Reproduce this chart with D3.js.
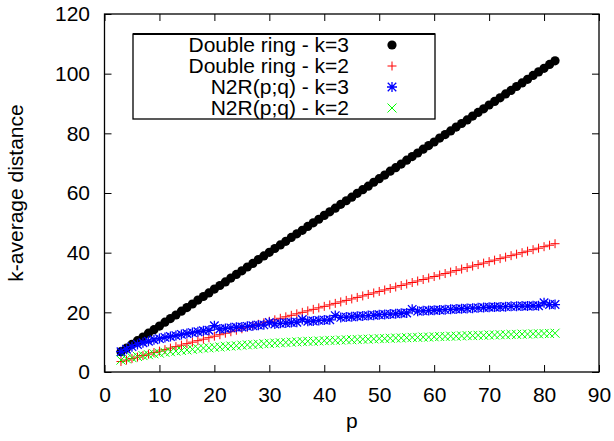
<!DOCTYPE html>
<html>
<head>
<meta charset="utf-8">
<script src="https://cdn.jsdelivr.net/npm/d3@7"></script>
<style>
  html, body { margin: 0; padding: 0; background: #fff; }
  svg { display: block; font-family: "Liberation Sans", Arial, sans-serif; }
</style>
</head>
<body>
<script>
// ---- data ----
const pValues = d3.range(3, 83); // p = 3 .. 82
const doubleRingK3 = [6.8,8.0,9.3,10.5,11.7,13.0,14.2,15.4,16.7,17.9,19.1,20.4,21.6,22.8,24.1,25.3,26.5,27.8,29.0,30.2,
  31.5,32.7,33.9,35.2,36.4,37.7,38.9,40.1,41.4,42.6,43.8,45.1,46.3,47.5,48.8,50.0,51.2,52.5,53.7,54.9,
  56.2,57.4,58.6,59.9,61.1,62.3,63.6,64.8,66.0,67.3,68.5,69.7,71.0,72.2,73.4,74.7,75.9,77.1,78.4,79.6,
  80.8,82.1,83.3,84.5,85.8,87.0,88.2,89.5,90.7,91.9,93.2,94.4,95.7,96.9,98.1,99.4,100.6,101.8,103.1,104.3];
const doubleRingK2 = [3.5,4.0,4.5,5.0,5.5,6.0,6.5,7.0,7.5,8.0,8.5,9.0,9.5,10.0,10.5,11.0,11.5,12.0,12.5,13.0,
  13.5,14.0,14.5,15.0,15.5,16.0,16.5,17.0,17.5,18.0,18.5,19.0,19.5,20.0,20.5,21.0,21.5,22.0,22.5,23.0,
  23.5,24.0,24.5,25.0,25.5,26.0,26.5,27.0,27.5,28.0,28.5,29.0,29.5,30.0,30.5,31.0,31.5,32.0,32.5,33.0,
  33.5,34.0,34.5,35.0,35.5,36.0,36.5,37.0,37.5,38.0,38.5,39.0,39.5,40.0,40.5,41.0,41.5,42.0,42.5,43.0];
const n2rK3 = [6.8,7.6,8.5,9.2,9.8,10.3,10.8,11.2,11.6,11.9,12.2,12.6,12.9,13.2,13.5,13.8,14.0,15.5,14.4,14.6,
  14.8,15.0,15.1,15.3,15.5,15.7,15.8,16.6,16.1,16.3,16.4,16.6,16.7,17.6,17.0,17.1,17.3,17.4,17.5,18.9,
  18.3,18.4,18.5,18.7,18.8,18.9,19.0,19.2,19.3,19.4,19.5,19.7,19.8,21.0,20.4,20.5,20.6,20.7,20.8,20.9,
  21.0,21.1,21.2,21.3,21.4,21.5,21.6,21.7,21.8,21.8,21.9,22.0,22.0,22.1,22.1,22.2,22.2,23.2,22.6,22.6];
const n2rK2 = [4.0,4.4,4.8,5.2,5.5,5.8,6.1,6.3,6.6,6.8,7.0,7.2,7.4,7.6,7.8,8.0,8.1,8.3,8.4,8.6,
  8.7,8.8,9.0,9.1,9.2,9.3,9.5,9.6,9.7,9.8,9.9,10.0,10.1,10.2,10.3,10.3,10.4,10.5,10.6,10.6,
  10.7,10.8,10.8,10.9,11.0,11.0,11.1,11.2,11.2,11.3,11.4,11.4,11.5,11.6,11.6,11.7,11.7,11.8,11.9,11.9,
  12.0,12.0,12.1,12.2,12.2,12.3,12.3,12.4,12.4,12.5,12.5,12.6,12.6,12.7,12.7,12.8,12.8,12.9,12.9,13.0];
const seriesNames = ["Double ring - k=3", "Double ring - k=2", "N2R(p;q) - k=3", "N2R(p;q) - k=2"];
const seriesColors = ["#000000", "#ff0000", "#0000ff", "#00ff00"];
const seriesMarkers = ["circle", "plus", "star", "cross"];
const xTicks = [0,10,20,30,40,50,60,70,80,90];
const yTicks = [0,20,40,60,80,100,120];

// ---- layout ----
const W = 614, H = 441;
const m = {left: 104.5, right: 599, top: 14, bottom: 372};
const svg = d3.select("body").append("svg").attr("width", W).attr("height", H);

const x = d3.scaleLinear().domain([0, 90]).range([m.left, m.right]);
const y = d3.scaleLinear().domain([0, 120]).range([m.bottom, m.top]);

const fontSize = 21;
const tick = 7;

// axes (inward ticks, mirrored)
const gx = svg.append("g").attr("transform", `translate(0,${m.bottom})`)
  .call(d3.axisBottom(x).tickValues(xTicks).tickSize(-tick).tickPadding(tick + 8).tickFormat(d3.format("d")));
const gxt = svg.append("g").attr("transform", `translate(0,${m.top})`)
  .call(d3.axisTop(x).tickValues(xTicks).tickSize(-tick).tickFormat(""));
const gy = svg.append("g").attr("transform", `translate(${m.left},0)`)
  .call(d3.axisLeft(y).tickValues(yTicks).tickSize(-tick).tickPadding(tick + 7.5).tickFormat(d3.format("d")));
const gyr = svg.append("g").attr("transform", `translate(${m.right},0)`)
  .call(d3.axisRight(y).tickValues(yTicks).tickSize(-tick).tickFormat(""));
[gx, gxt, gy, gyr].forEach(g => {
  g.select(".domain").remove();
  g.selectAll("line").attr("stroke", "#000").attr("stroke-width", 1);
  g.selectAll("text").attr("font-size", fontSize).attr("fill", "#000")
    .attr("font-family", "Liberation Sans, Arial, sans-serif");
});
gx.selectAll("text").attr("dy", "0.71em");

// border
svg.append("rect").attr("x", m.left).attr("y", m.top)
  .attr("width", m.right - m.left).attr("height", m.bottom - m.top)
  .attr("fill", "none").attr("stroke", "#000").attr("stroke-width", 1.3);

// axis titles
svg.append("text").attr("x", (m.left + m.right) / 2).attr("y", 428)
  .attr("text-anchor", "middle").attr("font-size", fontSize).text("p");
svg.append("text").attr("transform", `translate(23,${(m.top + m.bottom) / 2}) rotate(-90)`)
  .attr("text-anchor", "middle").attr("font-size", fontSize).text("k-average distance");

// marker drawing
function drawMarker(g, type, color, cx, cy) {
  const s = 4.5;
  if (type === "circle") {
    g.append("circle").attr("cx", cx).attr("cy", cy).attr("r", 4.6).attr("fill", color);
  } else {
    const ss = type === "star" ? 5 : s;
    let d = "";
    if (type === "plus" || type === "star") d += `M${cx - ss},${cy}H${cx + ss}M${cx},${cy - ss}V${cy + ss}`;
    if (type === "cross" || type === "star") {
      const t = type === "star" ? ss * 0.85 : s;
      d += `M${cx - t},${cy - t}L${cx + t},${cy + t}M${cx - t},${cy + t}L${cx + t},${cy - t}`;
    }
    g.append("path").attr("d", d).attr("stroke", color)
      .attr("stroke-width", type === "star" ? 1.3 : 1).attr("fill", "none");
  }
}

const allSeries = [doubleRingK3, doubleRingK2, n2rK3, n2rK2];
const plot = svg.append("g");
allSeries.forEach((vals, i) => {
  const g = plot.append("g");
  vals.forEach((v, j) => drawMarker(g, seriesMarkers[i], seriesColors[i], x(pValues[j]), y(v)));
});

// legend
const lg = svg.append("g");
lg.append("rect").attr("x", 133).attr("y", 34).attr("width", 302).attr("height", 85)
  .attr("fill", "#fff").attr("stroke", "#000").attr("stroke-width", 1.3);
lg.append("line").attr("x1", 133).attr("x2", 435).attr("y1", 34).attr("y2", 34)
  .attr("stroke", "#000").attr("stroke-width", 2);
const legendRows = [45, 66, 87, 108];
seriesNames.forEach((name, i) => {
  lg.append("text").attr("x", 349).attr("y", legendRows[i]).attr("dy", "0.35em")
    .attr("text-anchor", "end").attr("font-size", fontSize).text(name);
  drawMarker(lg, seriesMarkers[i], seriesColors[i], 392, legendRows[i]);
});
</script>
</body>
</html>
